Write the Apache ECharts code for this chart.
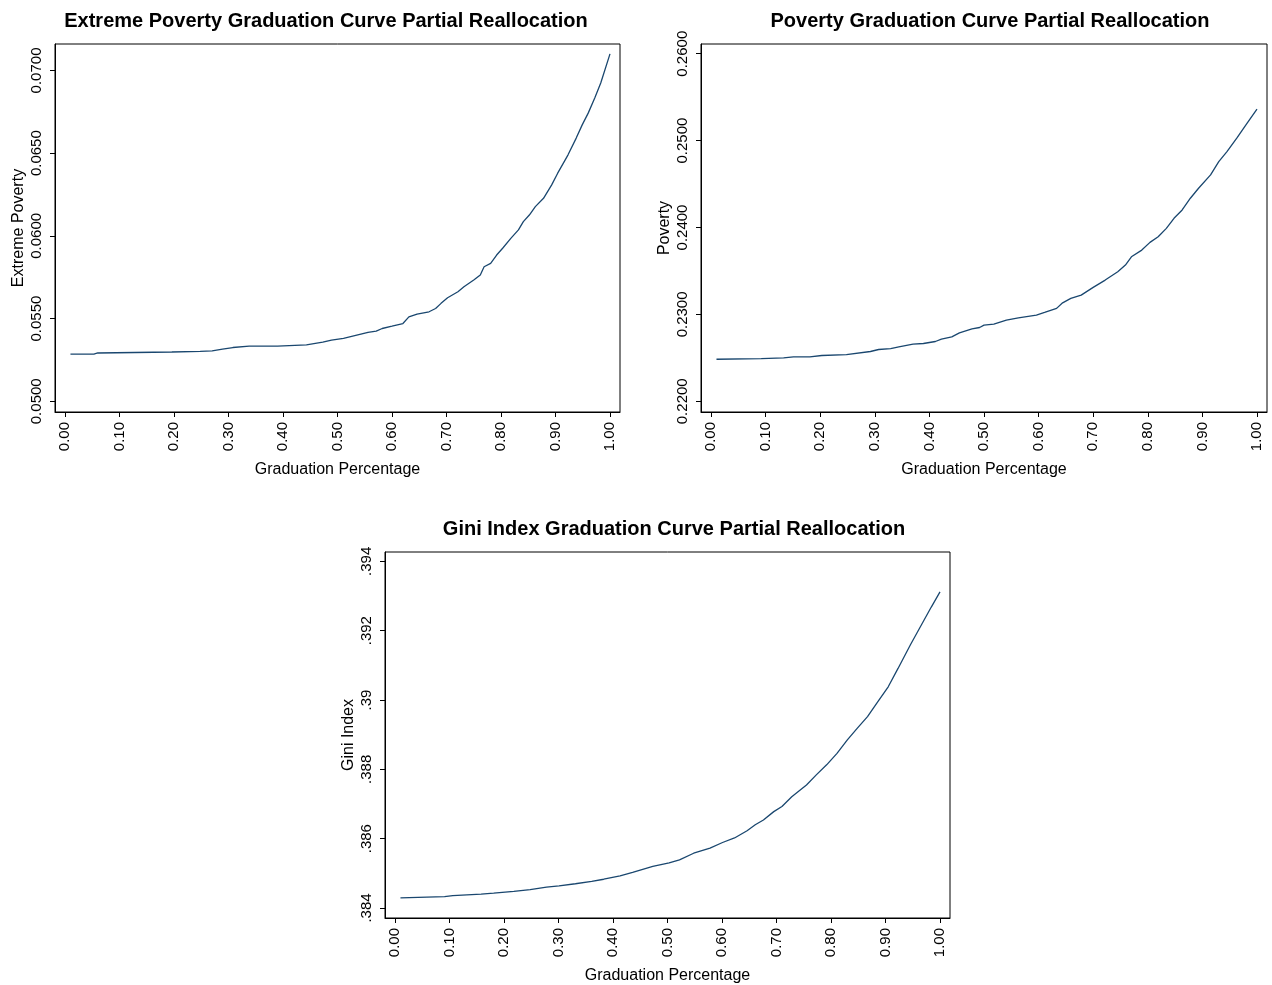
<!DOCTYPE html>
<html>
<head>
<meta charset="utf-8">
<title>Graduation Curve Partial Reallocation</title>
<script src="https://cdn.jsdelivr.net/npm/echarts@6/dist/echarts.min.js"></script>
<style>
  html, body { margin: 0; padding: 0; background: #fff; }
  #chart { width: 1272px; height: 985px; }
</style>
</head>
<body>
<div id="chart"></div>
<script>
// values, x = graduation percentage
const extremeX = [0.01, 0.053, 0.06, 0.196, 0.248, 0.27, 0.289, 0.308, 0.338, 0.39, 0.443, 0.473, 0.489, 0.511, 0.541, 0.556, 0.571, 0.582, 0.6, 0.62, 0.631, 0.646, 0.668, 0.68, 0.69, 0.702, 0.721, 0.732, 0.75, 0.762, 0.769, 0.781, 0.792, 0.803, 0.818, 0.832, 0.841, 0.852, 0.863, 0.878, 0.893, 0.904, 0.916, 0.923, 0.938, 0.949, 0.96, 0.972, 0.983, 1.0]
const extremeY = [0.05285, 0.05285, 0.05292, 0.05298, 0.05302, 0.05305, 0.05315, 0.05325, 0.05333, 0.05334, 0.05341, 0.05357, 0.05370, 0.05380, 0.05404, 0.05416, 0.05424, 0.05440, 0.05454, 0.05470, 0.05510, 0.05527, 0.05541, 0.05561, 0.05592, 0.05626, 0.05662, 0.05692, 0.05733, 0.05763, 0.05813, 0.05834, 0.05884, 0.05925, 0.05985, 0.06036, 0.06086, 0.06126, 0.06177, 0.06227, 0.06308, 0.06379, 0.06449, 0.06490, 0.06591, 0.06671, 0.06742, 0.06833, 0.06924, 0.07100]

const povertyX = [0.01, 0.092, 0.133, 0.151, 0.181, 0.203, 0.248, 0.292, 0.307, 0.329, 0.344, 0.370, 0.389, 0.411, 0.422, 0.441, 0.455, 0.478, 0.492, 0.500, 0.518, 0.541, 0.563, 0.596, 0.611, 0.633, 0.644, 0.659, 0.678, 0.700, 0.722, 0.745, 0.759, 0.770, 0.789, 0.804, 0.819, 0.834, 0.848, 0.863, 0.878, 0.893, 0.915, 0.930, 0.945, 0.963, 0.982, 1.0]
const povertyY = [0.22484, 0.22492, 0.22499, 0.22511, 0.22511, 0.22527, 0.22538, 0.22573, 0.22596, 0.22607, 0.22626, 0.22657, 0.22665, 0.22688, 0.22715, 0.22741, 0.22787, 0.22833, 0.22849, 0.22876, 0.22888, 0.22934, 0.22960, 0.22991, 0.23022, 0.23069, 0.23133, 0.23184, 0.23222, 0.23311, 0.23395, 0.23490, 0.23568, 0.23663, 0.23740, 0.23829, 0.23894, 0.23990, 0.24106, 0.24202, 0.24337, 0.24452, 0.24605, 0.24759, 0.24874, 0.25028, 0.25201, 0.25363]

const giniX = [0.01, 0.091, 0.106, 0.158, 0.181, 0.218, 0.248, 0.278, 0.301, 0.331, 0.361, 0.383, 0.413, 0.436, 0.473, 0.503, 0.522, 0.548, 0.578, 0.601, 0.623, 0.646, 0.661, 0.676, 0.695, 0.710, 0.728, 0.755, 0.773, 0.792, 0.811, 0.830, 0.848, 0.867, 0.886, 0.905, 0.923, 0.946, 0.965, 0.984, 1.0]
const giniY = [0.38429, 0.38433, 0.38436, 0.38440, 0.38443, 0.38448, 0.38453, 0.38460, 0.38464, 0.38470, 0.38477, 0.38483, 0.38493, 0.38503, 0.38520, 0.38530, 0.38539, 0.38558, 0.38573, 0.38589, 0.38602, 0.38623, 0.38640, 0.38654, 0.38678, 0.38693, 0.38721, 0.38755, 0.38784, 0.38813, 0.38846, 0.38885, 0.38918, 0.38952, 0.38995, 0.39038, 0.39091, 0.39160, 0.39214, 0.39268, 0.39312]

// tick labels
const xTicks = [0, 0.1, 0.2, 0.3, 0.4, 0.5, 0.6, 0.7, 0.8, 0.9, 1.0]
const extremeTicks = [0.05, 0.055, 0.06, 0.065, 0.07]
const povertyTicks = [0.22, 0.23, 0.24, 0.25, 0.26]
const giniTicks = [0.384, 0.386, 0.388, 0.39, 0.392, 0.394]

const titles = [
  'Extreme Poverty Graduation Curve Partial Reallocation',
  'Poverty Graduation Curve Partial Reallocation',
  'Gini Index Graduation Curve Partial Reallocation',
]
const yNames = ['Extreme Poverty', 'Poverty', 'Gini Index']
const xName = 'Graduation Percentage'

const FONT = "'Liberation Sans', Arial, Helvetica, sans-serif"
const NAVY = '#1a476f'

const pairs = (xs, ys) => xs.map((x, i) => [x, ys[i]])

function xAxisFor(gridIndex) {
  return {
    type: 'value',
    gridIndex,
    min: -0.018349,
    max: 1.018349,
    name: xName,
    nameLocation: 'middle',
    nameGap: 50,
    nameTextStyle: { fontFamily: FONT, fontSize: 16, color: '#000' },
    axisLine: { show: true, onZero: false, lineStyle: { color: '#000', width: 1 } },
    axisTick: { show: true, length: 5, customValues: xTicks, lineStyle: { color: '#000' } },
    axisLabel: {
      customValues: xTicks,
      rotate: 90,
      margin: 10,
      fontFamily: FONT,
      fontSize: 15,
      color: '#000',
      formatter: (v) => v.toFixed(2),
    },
    splitLine: { show: false },
  }
}

function yAxisFor(gridIndex, min, max, ticks, name, fmt) {
  return {
    type: 'value',
    gridIndex,
    min,
    max,
    name,
    nameLocation: 'middle',
    nameGap: 28,
    nameTextStyle: { fontFamily: FONT, fontSize: 16, color: '#000' },
    axisLine: { show: true, onZero: false, lineStyle: { color: '#000', width: 1 } },
    axisTick: { show: true, length: 5, customValues: ticks, lineStyle: { color: '#000' } },
    axisLabel: {
      customValues: ticks,
      rotate: 90,
      margin: 11,
      fontFamily: FONT,
      fontSize: 15,
      color: '#000',
      formatter: fmt,
    },
    splitLine: { show: false },
  }
}

const chart = echarts.init(document.getElementById('chart'), null, { renderer: 'canvas' })

const gridBox = { show: true, borderColor: '#000', borderWidth: 1, backgroundColor: '#fff' }

const option = {
  animation: false,
  backgroundColor: '#fff',
  title: [
    { text: titles[0], left: 321, top: 6, textAlign: 'center' },
    { text: titles[1], left: 985, top: 6, textAlign: 'center' },
    { text: titles[2], left: 669, top: 514, textAlign: 'center' },
  ].map((t) => ({
    ...t,
    textStyle: { fontFamily: FONT, fontSize: 20, fontWeight: 'bold', color: '#000' },
  })),
  grid: [
    { ...gridBox, left: 55, top: 44, width: 565, height: 368 },
    { ...gridBox, left: 701, top: 44, width: 566, height: 368 },
    { ...gridBox, left: 385, top: 552, width: 565, height: 366 },
  ],
  xAxis: [xAxisFor(0), xAxisFor(1), xAxisFor(2)],
  yAxis: [
    yAxisFor(0, 0.049352, 0.071599, extremeTicks, yNames[0], (v) => v.toFixed(4)),
    yAxisFor(1, 0.218767, 0.261118, povertyTicks, yNames[1], (v) => v.toFixed(4)),
    yAxisFor(2, 0.383712, 0.394268, giniTicks, yNames[2], (v) => String(+v.toFixed(3)).replace(/^0/, '')),
  ],
  series: [
    { data: pairs(extremeX, extremeY), xAxisIndex: 0, yAxisIndex: 0 },
    { data: pairs(povertyX, povertyY), xAxisIndex: 1, yAxisIndex: 1 },
    { data: pairs(giniX, giniY), xAxisIndex: 2, yAxisIndex: 2 },
  ].map((s) => ({
    ...s,
    type: 'line',
    showSymbol: false,
    lineStyle: { color: NAVY, width: 1.3 },
  })),
}

chart.setOption(option)
</script>
</body>
</html>
